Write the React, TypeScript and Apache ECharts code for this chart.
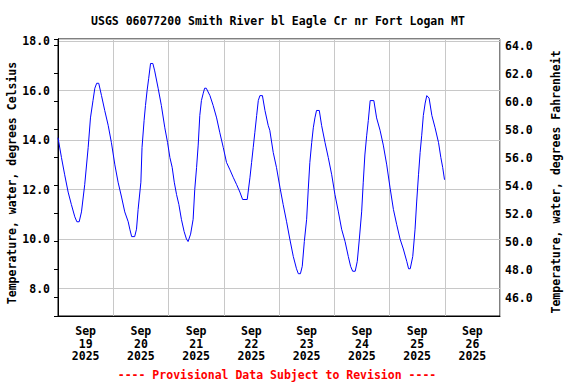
import React, { useEffect, useRef } from "react";
import * as echarts from "echarts";

// Hours since 2025-09-19 00:00 and water temperature (°C)
const hours: number[] = [
  0, 1.5, 2.9, 4.4, 5.8, 7.3, 8.2, 9.2, 10.2, 11.6, 13.1, 14.1, 15.2, 16.0, 16.8, 17.7,
  18.9, 20.3, 21.8, 23.2, 24.7, 26.1, 27.6, 29.0, 30.5, 31.2, 32.0, 33.3, 34.1, 34.8,
  36.0, 36.5, 37.4, 38.0, 38.7, 39.4, 40.2, 41.2, 42.0, 43.5, 44.9, 46.4, 47.6, 48.6,
  49.6, 50.5, 51.5, 52.5, 53.6, 54.8, 55.8, 56.5, 57.6, 58.7, 59.4, 60.2, 60.9, 61.6,
  62.3, 63.1, 63.7, 64.4, 66.0, 67.4, 68.9, 70.3, 71.8, 73.2, 74.7, 76.1, 77.6, 79.0,
  80.2, 82.2, 82.6, 83.4, 84.1, 84.8, 85.5, 86.3, 87.0, 87.7, 88.8, 89.9, 91.3, 92.0,
  93.5, 94.9, 96.4, 97.8, 99.3, 100.7, 102.2, 103.6, 104.4, 105.3, 106.1, 107.0, 108.0,
  108.7, 109.4, 110.2, 110.9, 111.6, 112.3, 113.5, 114.5, 116.0, 117.4, 118.9, 120.3,
  121.8, 123.2, 124.7, 126.1, 127.1, 128.0, 129.1, 130.0, 130.9, 131.9, 132.6, 133.3,
  134.1, 134.8, 135.6, 137.2, 138.4, 139.9, 141.3, 142.8, 144.2, 145.7, 147.1, 148.6,
  150.0, 151.5, 152.3, 153.0, 154.1, 155.1, 155.8, 156.6, 157.3, 158.0, 158.7, 159.5,
  160.2, 161.2, 162.4, 163.8, 165.3, 166.3, 167.1, 167.9,
];
const tempC: number[] = [
  14.1, 13.3, 12.6, 11.9, 11.4, 10.9, 10.7, 10.7, 11.1, 12.2, 13.7, 14.9, 15.6, 16.1, 16.3, 16.3,
  15.8, 15.2, 14.6, 13.9, 13.0, 12.3, 11.7, 11.1, 10.7, 10.4, 10.1, 10.1, 10.4, 11.2,
  12.3, 13.7, 14.8, 15.4, 16.0, 16.5, 17.1, 17.1, 16.8, 16.1, 15.4, 14.5, 13.9, 13.3,
  12.9, 12.3, 11.8, 11.4, 10.8, 10.3, 10.0, 9.9, 10.2, 10.8, 12.0, 12.9, 13.8, 15.0,
  15.6, 15.9, 16.1, 16.1, 15.8, 15.4, 14.9, 14.3, 13.7, 13.1, 12.8, 12.5, 12.2, 11.9,
  11.6, 11.6, 11.9, 12.5, 13.1, 13.7, 14.3, 15.0, 15.6, 15.8, 15.8, 15.2, 14.6, 14.4,
  13.5, 12.9, 12.1, 11.4, 10.7, 10.0, 9.3, 8.8, 8.6, 8.6, 8.9, 9.9, 10.8,
  12.0, 13.1, 13.9, 14.5, 14.9, 15.2, 15.2, 14.6, 13.9, 13.3, 12.6, 11.8,
  11.1, 10.4, 9.9, 9.3, 8.9, 8.7, 8.7, 9.1, 10.0, 11.1, 12.3, 13.4,
  14.2, 14.8, 15.6, 15.6, 14.9, 14.4, 13.8, 13.0, 12.1, 11.2, 10.6, 10.0,
  9.6, 9.1, 8.8, 8.8, 9.3, 10.4, 11.5, 12.6, 13.5, 14.2, 15.0, 15.5,
  15.8, 15.7, 15.0, 14.5, 13.9, 13.3, 12.9, 12.4,
];

const dayLabels: string[] = ["19", "20", "21", "22", "23", "24", "25", "26"];
const monthLabel = "Sep";
const yearLabel = "2025";

const titleText = "USGS 06077200 Smith River bl Eagle Cr nr Fort Logan MT";
const leftName = "Temperature, water, degrees Celsius";
const rightName = "Temperature, water, degrees Fahrenheit";
const footerText = "---- Provisional Data Subject to Revision ----";

const FONT = "'DejaVu Sans Mono', monospace";

export default function App() {
  const ref = useRef<HTMLDivElement>(null);
  useEffect(() => {
    if (!ref.current) return;
    const chart = echarts.init(ref.current, undefined, { renderer: "svg" });
    const labelStyle = {
      fontFamily: FONT,
      fontWeight: "bold" as const,
      fontSize: 11.5,
      color: "#000",
    };
    chart.setOption({
      animation: false,
      backgroundColor: "#fff",
      grid: {
        left: 58,
        right: 76,
        top: 39,
        bottom: 68,
        show: true,
        borderColor: "#000",
        borderWidth: 1,
        outerBoundsMode: "none",
      },
      xAxis: [
        {
          type: "value",
          min: 0,
          max: 192,
          interval: 24,
          axisLine: { show: true, lineStyle: { color: "#000", width: 1 } },
          axisTick: { show: false },
          axisLabel: { show: false },
          splitLine: { show: true, lineStyle: { color: "#c8c8c8", width: 1 } },
        },
        {
          type: "value",
          min: 0,
          max: 192,
          interval: 12,
          position: "bottom",
          axisLine: { show: false },
          axisTick: { show: false },
          splitLine: { show: false },
          axisLabel: {
            ...labelStyle,
            margin: 9,
            lineHeight: 12.5,
            formatter: (v: number) => {
              if (Math.round(v) % 24 !== 12) return "";
              const i = Math.round((v - 12) / 24);
              return `${monthLabel}\n${dayLabels[i]}\n${yearLabel}`;
            },
          },
        },
      ],
      yAxis: [
        {
          type: "value",
          min: 6.89,
          max: 18.09,
          splitNumber: 5,
          position: "left",
          axisLine: { show: true, lineStyle: { color: "#000" } },
          axisTick: { show: false },
          splitLine: { show: true, lineStyle: { color: "#c8c8c8", width: 1 } },
          axisLabel: {
            ...labelStyle,
            margin: 8,
            showMinLabel: false,
            showMaxLabel: true,
            formatter: (v: number) =>
              Math.abs(v / 2 - Math.round(v / 2)) < 1e-6 ? v.toFixed(1) : "",
          },
        },
        {
          type: "value",
          min: 44.68,
          max: 64.48,
          splitNumber: 10,
          position: "right",
          axisLine: { show: true, lineStyle: { color: "#000" } },
          axisTick: { show: true, inside: true, length: 4, lineStyle: { color: "#000" } },
          splitLine: { show: false },
          axisLabel: {
            ...labelStyle,
            margin: 5,
            formatter: (v: number) =>
              Math.abs(v / 2 - Math.round(v / 2)) < 1e-6 ? v.toFixed(1) : "",
          },
        },
      ],
      series: [
        {
          type: "line",
          xAxisIndex: 0,
          yAxisIndex: 0,
          data: hours.map((h, i) => [h, tempC[i]]),
          showSymbol: false,
          lineStyle: { color: "#0000ff", width: 1 },
          itemStyle: { color: "#0000ff" },
        },
      ],
      graphic: [
        {
          type: "text",
          x: 278,
          y: 21,
          style: {
            text: titleText,
            font: `bold 11.5px ${FONT}`,
            fill: "#000",
            textAlign: "center",
            textVerticalAlign: "middle",
          },
        },
        {
          type: "text",
          x: 12,
          y: 183,
          rotation: Math.PI / 2,
          style: {
            text: leftName,
            font: `bold 11.5px ${FONT}`,
            fill: "#000",
            textAlign: "center",
            textVerticalAlign: "middle",
          },
        },
        {
          type: "text",
          x: 556,
          y: 182,
          rotation: Math.PI / 2,
          style: {
            text: rightName,
            font: `bold 11.5px ${FONT}`,
            fill: "#000",
            textAlign: "center",
            textVerticalAlign: "middle",
          },
        },
        {
          type: "text",
          x: 277,
          y: 375,
          style: {
            text: footerText,
            font: `bold 11.5px ${FONT}`,
            fill: "#ff0000",
            textAlign: "center",
            textVerticalAlign: "middle",
          },
        },
      ],
    });
    return () => chart.dispose();
  }, []);
  return (
    <div
      ref={ref}
      style={{ position: "fixed", left: 0, top: 0, width: 576, height: 384 }}
    />
  );
}
